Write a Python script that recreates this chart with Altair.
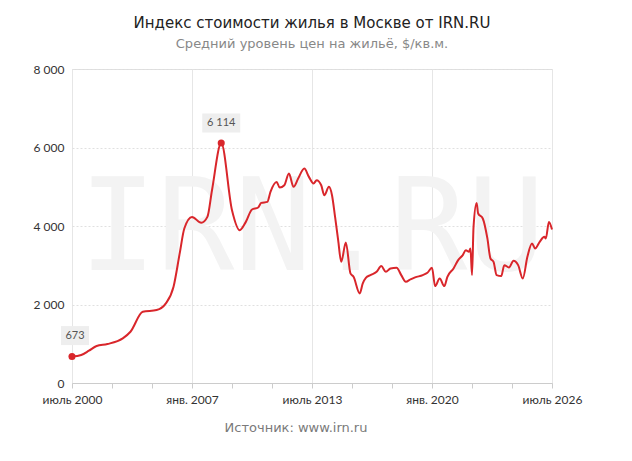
import altair as alt
import pandas as pd

# ---- data ----
months = [
    "2000-07", "2001-01", "2001-06", "2001-11", "2002-06", "2003-04", "2003-09",
    "2004-05", "2005-02", "2005-08", "2006-01", "2006-05", "2006-08", "2007-01",
    "2007-07", "2007-11", "2008-02", "2008-08", "2009-03", "2009-08", "2009-12",
    "2010-04", "2010-08", "2010-10", "2011-02", "2011-04", "2011-08", "2011-10",
    "2012-01", "2012-04", "2012-07", "2012-10", "2013-02", "2013-05", "2013-08",
    "2013-10", "2014-01", "2014-03", "2014-06", "2014-08", "2014-10", "2014-12",
    "2015-02", "2015-05", "2015-08", "2015-10", "2016-02", "2016-04", "2016-06",
    "2016-09", "2017-01", "2017-04", "2017-07", "2017-10", "2018-02", "2018-05",
    "2018-08", "2018-11", "2019-02", "2019-07", "2019-10", "2020-01", "2020-03",
    "2020-06", "2020-09", "2020-11", "2021-03", "2021-06", "2021-09", "2021-11",
    "2022-01", "2022-02", "2022-03", "2022-04", "2022-06", "2022-07", "2022-10",
    "2023-01", "2023-03", "2023-05", "2023-07", "2023-10", "2023-12", "2024-03",
    "2024-06", "2024-09", "2024-12", "2025-03", "2025-06", "2025-08", "2025-11",
    "2026-02", "2026-03", "2026-05", "2026-07",
]
values = [
    673, 713, 822, 942, 993, 1137, 1306,
    1815, 1858, 2028, 2451, 3301, 3937, 4232,
    4080, 4232, 4912, 6114, 4403, 3894, 4105,
    4420, 4471, 4589, 4614, 4869, 5123, 4980,
    5039, 5336, 4997, 5209, 5464, 5251, 5082,
    5166, 5039, 4785, 4997, 4785, 4232, 3640,
    3088, 3580, 2792, 2706, 2283, 2537, 2680,
    2749, 2832, 2978, 2832, 2919, 2935, 2749,
    2578, 2639, 2690, 2749, 2807, 2935, 2469,
    2664, 2469, 2706, 2919, 3130, 3258, 3385,
    3342, 3427, 2749, 3978, 4589, 4319, 4192,
    3683, 3173, 3088, 2749, 2724, 3003, 2944,
    3113, 3003, 2664, 3215, 3555, 3427, 3597,
    3724, 3683, 4105, 3911,
]
label_months = ["2000-07", "2008-08"]
label_values = [673, 6114]

y_ticks = [0, 2000, 4000, 6000, 8000]
title_text = "Индекс стоимости жилья в Москве от IRN.RU"
subtitle_text = "Средний уровень цен на жильё, $/кв.м."
source_text = "Источник: www.irn.ru"
watermark_text = "IRN.RU"


def to_year(s):
    y, m = s.split("-")
    return int(y) + (int(m) - 1) / 12


x_start, x_end = 2000.5, 2026.5
x_ticks = [x_start + k * 26 / 12 for k in range(13)]

df = pd.DataFrame({"t": [to_year(m) for m in months], "v": values})
lab = pd.DataFrame({
    "t": [to_year(m) for m in label_months],
    "v": label_values,
    "txt": [f"{v:,}".replace(",", " ") for v in label_values],
})

W, H = 480, 314

x_enc = alt.X(
    "t:Q",
    scale=alt.Scale(domain=[x_start, x_end], nice=False, zero=False),
    axis=alt.Axis(
        values=x_ticks,
        labelExpr=(
            "(round((datum.value-2000.5)*6/13) % 3 != 0) ? '' : "
            "((abs(datum.value - floor(datum.value)) < 0.01) ? "
            "'янв. ' + floor(datum.value) : 'июль ' + floor(datum.value))"
        ),
        grid=True,
        gridColor="#e6e6e6",
        gridOpacity={
            "condition": {"test": "round((datum.value-2000.5)*6/13) % 3 == 0", "value": 1},
            "value": 0,
        },
        tickSize=5,
        tickColor="#cccccc",
        domainColor="#cccccc",
        labelFont="Lato",
        labelFontSize=12,
        labelColor="#333333",
        labelPadding=6,
        labelFlush=False,
        labelOverlap=False,
        title=None,
    ),
)
y_enc = alt.Y(
    "v:Q",
    scale=alt.Scale(domain=[0, 8000], nice=False),
    axis=alt.Axis(
        values=y_ticks,
        labelExpr="replace(format(datum.value, ','), ',', ' ')",
        domain=False,
        ticks=False,
        grid=True,
        gridDash=[2, 2],
        gridColor="#e0e0e0",
        labelPadding=8,
        labelFont="Lato",
        labelFontSize=12,
        labelColor="#333333",
        title=None,
    ),
)

one = pd.DataFrame({"a": [0]})

watermark = alt.Chart(one).mark_text(
    text=watermark_text, font="DejaVu Sans Mono", fontSize=129,
    color="#f3f3f3", align="center", baseline="alphabetic",
).encode(x=alt.value(W / 2), y=alt.value(201))

line = alt.Chart(df).mark_line(
    color="#d9262b", strokeWidth=2, interpolate="monotone"
).encode(x=x_enc, y=y_enc)

pts = alt.Chart(lab).mark_point(
    filled=True, color="#d9262b", opacity=1, size=50, shape="circle"
).encode(x=x_enc, y=y_enc)

box_small = alt.Chart(lab[lab["v"] < 1000]).mark_point(
    filled=True, color="#eeeeee", opacity=1, size=784,
    shape="M-1,-0.68H1V0.68H-1Z", yOffset=-21, xOffset=3,
).encode(x=x_enc, y=y_enc)

box_big = alt.Chart(lab[lab["v"] >= 1000]).mark_point(
    filled=True, color="#eeeeee", opacity=1, size=1444,
    shape="M-1,-0.5H1V0.5H-1Z", yOffset=-20,
).encode(x=x_enc, y=y_enc)

txt_small = alt.Chart(lab[lab["v"] < 1000]).mark_text(
    font="Lato", fontSize=11, color="#555555", baseline="middle",
    align="center", yOffset=-21, xOffset=3,
).encode(x=x_enc, y=y_enc, text="txt:N")

txt_big = alt.Chart(lab[lab["v"] >= 1000]).mark_text(
    font="Lato", fontSize=11, color="#555555", baseline="middle",
    align="center", yOffset=-20,
).encode(x=x_enc, y=y_enc, text="txt:N")

source = alt.Chart(one).mark_text(
    text=source_text, font="DejaVu Sans", fontSize=13, color="#7a7a7a",
    align="center", baseline="middle",
).encode(x=alt.value(224), y=alt.value(359))

chart = alt.layer(
    watermark, line, box_small, box_big, txt_small, txt_big, pts, source
).properties(
    width=W,
    height=H,
    autosize=alt.AutoSizeParams(type="none"),
    padding={"left": 64, "top": 61, "right": 40, "bottom": 60},
    title=alt.TitleParams(
        text=title_text,
        subtitle=subtitle_text,
        anchor="middle",
        font="DejaVu Sans",
        fontSize=15,
        fontWeight="normal",
        color="#222222",
        subtitleFont="DejaVu Sans",
        subtitleFontSize=13,
        subtitleColor="#888888",
        subtitlePadding=7,
        offset=12,
    ),
).configure_view(stroke=None).configure(background="white")

chart.save("out.html", embed_options={"renderer": "svg", "actions": False})
